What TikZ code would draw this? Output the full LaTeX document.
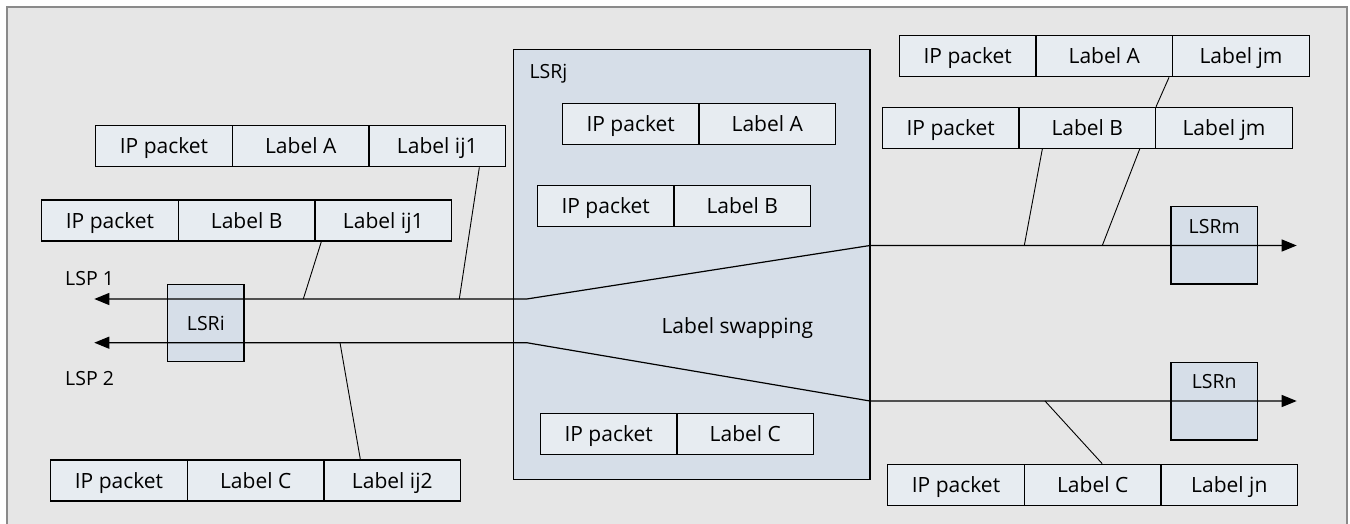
\documentclass[tikz,border=0pt]{standalone}
\usepackage{fontspec}
\setmainfont{Open Sans}
\usetikzlibrary{arrows.meta,calc}
\definecolor{bg}{HTML}{E6E6E6}
\definecolor{cellfill}{HTML}{E7ECF1}
\definecolor{lsrfill}{HTML}{D6DEE8}
\definecolor{framegray}{HTML}{8A8A8A}
\begin{document}
\begin{tikzpicture}[x=1pt,y=-1pt,
  cell/.style={draw=black, line width=1.2pt, fill=cellfill, minimum width=136.7pt,
    minimum height=41pt, inner sep=0pt, text height=15pt, text depth=0pt,
    font=\fontsize{21}{25}\selectfont},
  lsrbox/.style={draw=black, line width=1.2pt, fill=lsrfill, inner sep=0pt},
  lsrtext/.style={font=\fontsize{19.5}{23}\selectfont, inner sep=0pt, text height=13.9pt, text depth=0pt},
  bigtext/.style={font=\fontsize{21}{25}\selectfont, inner sep=0pt, text height=15pt, text depth=0pt},
  lsp/.style={line width=1.2pt, {Triangle[length=15pt,width=12pt]}-{Triangle[length=15pt,width=12pt]}},
  tie/.style={line width=0.9pt}]
\useasboundingbox (0,0) rectangle (1350,523);
\clip (0,0) rectangle (1350,523);
\draw[framegray, line width=2pt, fill=bg] (7,7) rectangle (1347,540);

% router boxes
\node[lsrbox, minimum width=356.7pt, minimum height=430pt] (j) at (691.7,264.3) {};
\node[lsrbox, minimum width=76.3pt, minimum height=77.4pt] (i) at (205.8,323) {};
\node[lsrbox, minimum width=86.3pt, minimum height=77.3pt] (m) at (1214.2,245.3) {};
\node[lsrbox, minimum width=86.3pt, minimum height=77.7pt] (n) at (1214.2,401.2) {};

% LSP paths
\coordinate (a1) at (94.3,299);
\coordinate (b1) at (526.7,299);
\coordinate (c1) at (870,245.5);
\coordinate (d1) at (1296.7,245.5);
\coordinate (a2) at (94.3,342.7);
\coordinate (b2) at (526.7,342.7);
\coordinate (c2) at (870,401);
\coordinate (d2) at (1296.7,401);
\draw[lsp] (a1) -- (b1) -- (c1) -- (d1);
\draw[lsp] (a2) -- (b2) -- (c2) -- (d2);

% texts
\node[lsrtext] (ti) at (205.8,324) {LSRi};
\node[lsrtext, anchor=west] (tj) at (529.3,72) {LSRj};
\node[lsrtext] (tm) at (1214.2,227) {LSRm};
\node[lsrtext] (tn) at (1214.2,382) {LSRn};
\node[lsrtext, anchor=west] (l1) at (65,279) {LSP 1};
\node[lsrtext, anchor=west] (l2) at (65,378.3) {LSP 2};
\node[bigtext] (sw) at (737.3,325.8) {Label swapping};

% left packets
\node[cell] (lA1) at (164,146.2) {IP packet};
\node[cell] (lA2) at (300.7,146.2) {Label A};
\node[cell] (lA3) at (437.3,146.2) {Label ij1};
\node[cell] (lB1) at (110,220.5) {IP packet};
\node[cell] (lB2) at (246.7,220.5) {Label B};
\node[cell] (lB3) at (383.3,220.5) {Label ij1};
\node[cell] (lC1) at (119,480.5) {IP packet};
\node[cell] (lC2) at (255.7,480.5) {Label C};
\node[cell] (lC3) at (392.3,480.5) {Label ij2};

% packets inside LSRj
\node[cell] (jA1) at (630.7,124.3) {IP packet};
\node[cell] (jA2) at (767.3,124.3) {Label A};
\node[cell] (jB1) at (605.7,206.3) {IP packet};
\node[cell] (jB2) at (742.3,206.3) {Label B};
\node[cell] (jC1) at (608.7,434.2) {IP packet};
\node[cell] (jC2) at (745.3,434.2) {Label C};

% right packets
\node[cell] (rA1) at (967.7,56.2) {IP packet};
\node[cell] (rA2) at (1104.3,56.2) {Label A};
\node[cell] (rA3) at (1241,56.2) {Label jm};
\node[cell] (rB1) at (950.7,127.8) {IP packet};
\node[cell] (rB2) at (1087.3,127.8) {Label B};
\node[cell] (rB3) at (1224,127.8) {Label jm};
\node[cell] (rC1) at (956,484.7) {IP packet};
\node[cell] (rC2) at (1092.7,484.7) {Label C};
\node[cell] (rC3) at (1229.3,484.7) {Label jn};

% ties
\coordinate (t1) at (303.3,299);
\coordinate (t2) at (459.3,299);
\coordinate (t3) at (340,342.7);
\coordinate (t4) at (1024.3,245.5);
\coordinate (t5) at (1102.3,245.5);
\coordinate (t6) at (1045,401);
\draw[tie] ($(lB3.south west)+(7,0)$) -- (t1);
\draw[tie] ($(lA3.south west)+(111,0)$) -- (t2);
\draw[tie] ($(lC3.north west)+(37,0)$) -- (t3);
\draw[tie] ($(rA3.south west)+(-3,0)$) -- ($(rB3.north west)+(1,0)$);
\draw[tie] ($(rB2.south west)+(24,0)$) -- (t4);
\draw[tie] ($(rB2.south west)+(121.4,0)$) -- (t5);
\draw[tie] ($(rC2.north west)+(78.4,0)$) -- (t6);
\end{tikzpicture}
\end{document}
